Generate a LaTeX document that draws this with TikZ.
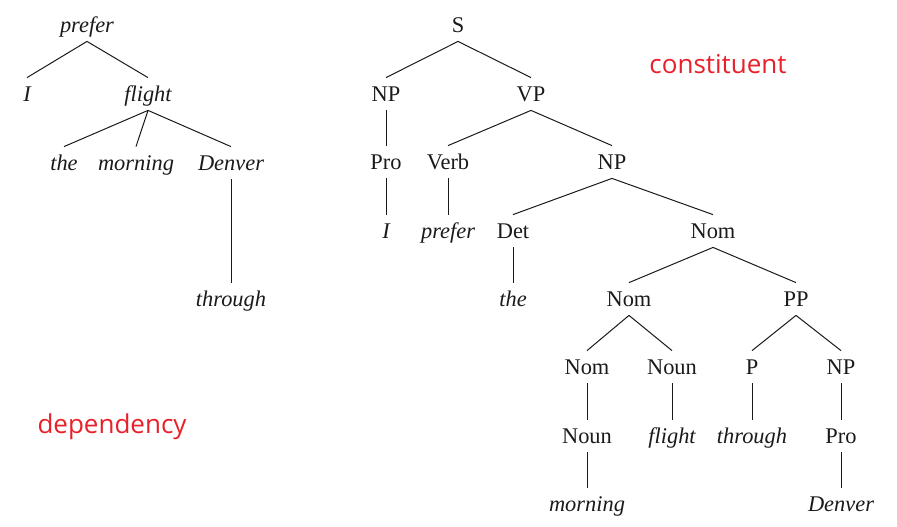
\documentclass[tikz,border=0pt]{standalone}
\usepackage{fontspec}
\setmainfont{Liberation Serif}
\newfontfamily\tagfont{Open Sans}
\usepackage{tikz}
\usetikzlibrary{positioning}
\usepackage{xcolor}
\definecolor{tagred}{HTML}{E8202A}
\definecolor{darktext}{HTML}{1A1A1A}

\begin{document}
\begin{tikzpicture}[
  x=0.5pt, y=-0.5pt,
  cat/.style={inner xsep=1pt, inner ysep=3pt, text height=8.5pt, text depth=1.5pt,
              font=\fontsize{11.2}{13.4}\selectfont, text=darktext},
  word/.style={cat, font=\fontsize{11.2}{13.4}\selectfont\itshape},
  branch/.style={draw=darktext, line width=0.5pt},
  tag/.style={font=\tagfont\fontsize{13}{15}\selectfont, text=tagred},
]
  \useasboundingbox (0,0) rectangle (897,526);

  % dependency tree
  \node[word] (dprefer) at (87,25) {prefer};
  \node[word] (dI) at (27,94) {I};
  \node[word] (dflight) at (148,94) {flight};
  \node[word] (dthe) at (64,163) {the};
  \node[word] (dmorning) at (136,163) {morning};
  \node[word] (ddenver) at (231,163) {Denver};
  \node[word] (dthrough) at (231,299) {through};
  \draw[branch] (dprefer.south) -- (dI.north);
  \draw[branch] (dprefer.south) -- (dflight.north);
  \draw[branch] (dflight.south) -- (dthe.north);
  \draw[branch] (dflight.south) -- (dmorning.north);
  \draw[branch] (dflight.south) -- (ddenver.north);
  \draw[branch] (ddenver.south) -- (dthrough.north);
  \node[tag] (dlabel) at (112,427) {dependency};

  % constituent tree
  \node[cat] (s) at (458,25) {S};
  \node[cat] (np1) at (386,94) {NP};
  \node[cat] (vp) at (531,94) {VP};
  \node[cat] (pro1) at (386,162) {Pro};
  \node[cat] (verb) at (448,162) {Verb};
  \node[cat] (np2) at (612,162) {NP};
  \node[word] (cI) at (386,231) {I};
  \node[word] (cprefer) at (448,231) {prefer};
  \node[cat] (det) at (513,231) {Det};
  \node[cat] (nom1) at (713,231) {Nom};
  \node[word] (cthe) at (513,299) {the};
  \node[cat] (nom2) at (629,299) {Nom};
  \node[cat] (pp) at (796,299) {PP};
  \node[cat] (nom3) at (587,367) {Nom};
  \node[cat] (noun1) at (672,367) {Noun};
  \node[cat] (p) at (752,367) {P};
  \node[cat] (np3) at (841,367) {NP};
  \node[cat] (noun2) at (587,436) {Noun};
  \node[word] (cflight) at (672,436) {flight};
  \node[word] (cthrough) at (752,436) {through};
  \node[cat] (pro2) at (841,436) {Pro};
  \node[word] (cmorning) at (587,504) {morning};
  \node[word] (cdenver) at (841,504) {Denver};
  \draw[branch] (s.south) -- (np1.north);
  \draw[branch] (s.south) -- (vp.north);
  \draw[branch] (np1.south) -- (pro1.north);
  \draw[branch] (pro1.south) -- (cI.north);
  \draw[branch] (vp.south) -- (verb.north);
  \draw[branch] (vp.south) -- (np2.north);
  \draw[branch] (verb.south) -- (cprefer.north);
  \draw[branch] (np2.south) -- (det.north);
  \draw[branch] (np2.south) -- (nom1.north);
  \draw[branch] (det.south) -- (cthe.north);
  \draw[branch] (nom1.south) -- (nom2.north);
  \draw[branch] (nom1.south) -- (pp.north);
  \draw[branch] (nom2.south) -- (nom3.north);
  \draw[branch] (nom2.south) -- (noun1.north);
  \draw[branch] (pp.south) -- (p.north);
  \draw[branch] (pp.south) -- (np3.north);
  \draw[branch] (nom3.south) -- (noun2.north);
  \draw[branch] (noun1.south) -- (cflight.north);
  \draw[branch] (p.south) -- (cthrough.north);
  \draw[branch] (np3.south) -- (pro2.north);
  \draw[branch] (noun2.south) -- (cmorning.north);
  \draw[branch] (pro2.south) -- (cdenver.north);
  \node[tag] (clabel) at (718,64) {constituent};
\end{tikzpicture}
\end{document}
